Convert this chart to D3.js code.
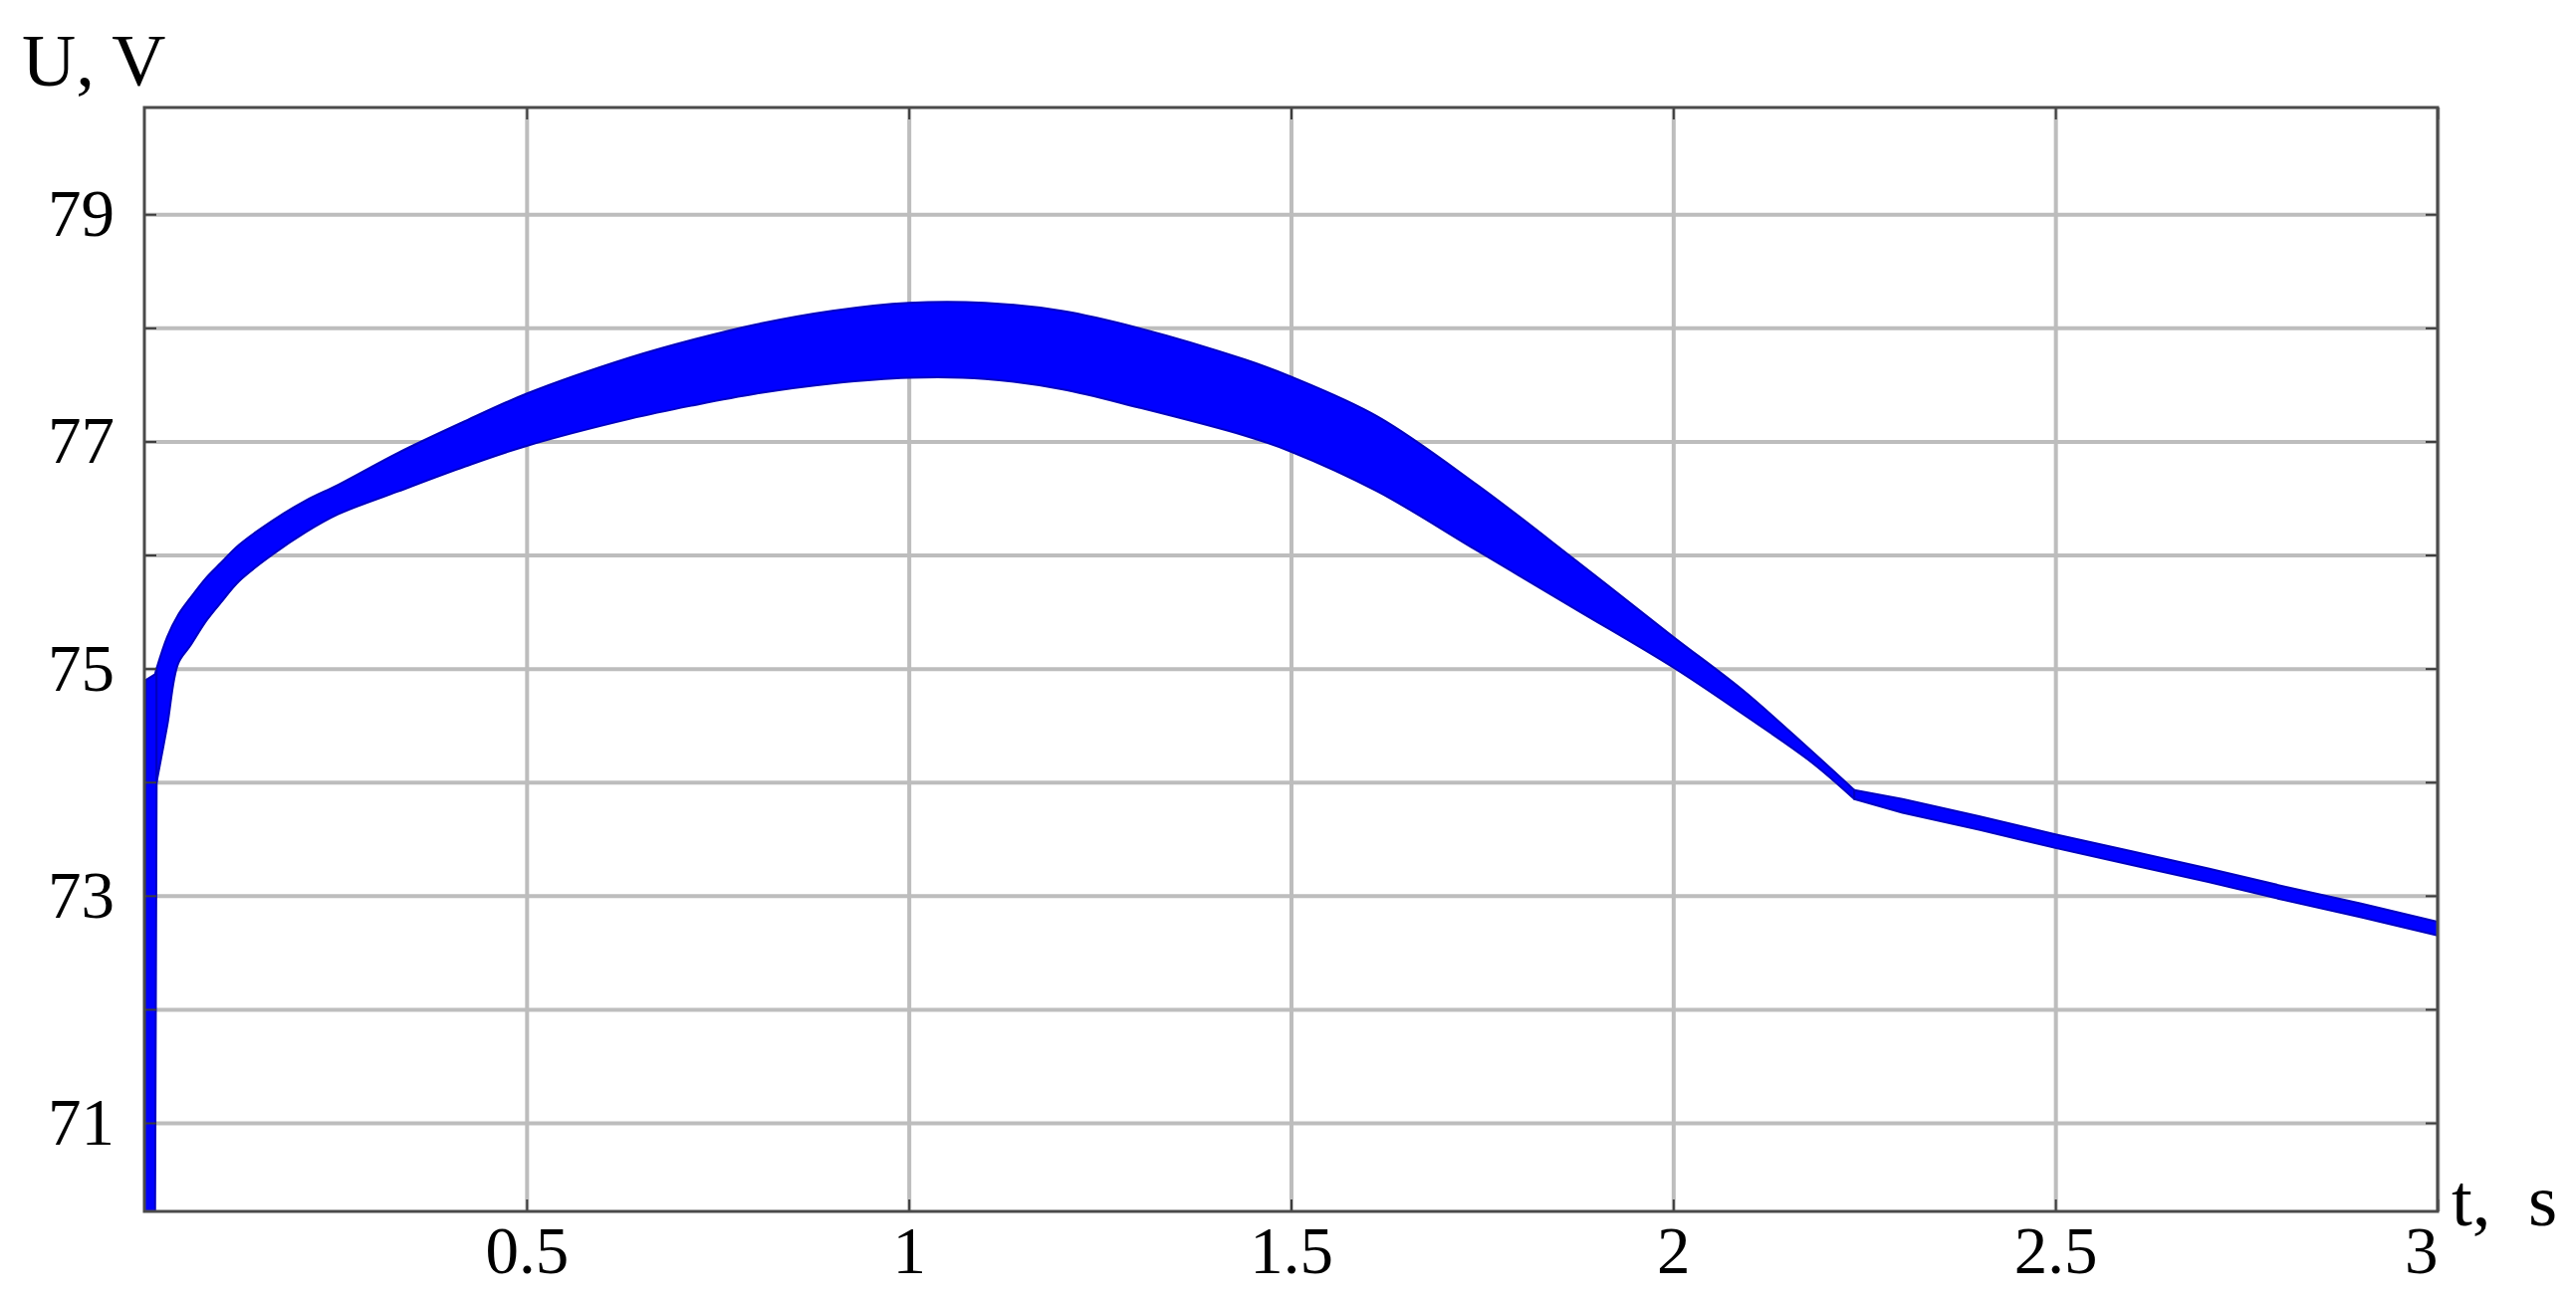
<!DOCTYPE html>
<html>
<head>
<meta charset="utf-8">
<script src="https://cdn.jsdelivr.net/npm/d3@7"></script>
<style>
  body { margin: 0; background: #fff; }
  svg { display: block; }
  .grid line { stroke: #bdbdbd; stroke-width: 4; }
  .grid path { display: none; }
  .ticks line { stroke: #3c3c3c; stroke-width: 2; }
  .ticks path { display: none; }
  .labels path, .labels line { display: none; }
  .labels text { font-family: "Liberation Serif", "Times New Roman", serif; font-size: 67px; fill: #000; }
</style>
</head>
<body>
<svg width="2587" height="1306"></svg>
<script>
"use strict";

// Time points (s) shared by both envelopes of the oscillating voltage
var time = [0, 0.002, 0.014, 0.016, 0.03, 0.044, 0.06, 0.081, 0.1, 0.124, 0.167, 0.211, 0.254,
    0.332, 0.42, 0.5, 0.636, 0.72, 0.8, 0.9, 1.0, 1.1, 1.2, 1.3, 1.44, 1.5, 1.613, 1.743,
    1.873, 2.0, 2.091, 2.18, 2.237, 2.3, 2.4, 2.5, 2.6, 2.7, 2.8, 2.9, 3.0];

// Upper envelope of U (V)
var voltUpper = [70.22, 74.9, 74.95, 75.0, 75.28, 75.47, 75.62, 75.8, 75.93, 76.09, 76.3, 76.48, 76.62,
    76.9, 77.18, 77.42, 77.74, 77.9, 78.03, 78.15, 78.22, 78.22, 78.15, 78.0, 77.72, 77.57, 77.22, 76.62,
    75.95, 75.28, 74.81, 74.28, 73.93, 73.85, 73.7, 73.54, 73.39, 73.24, 73.08, 72.93, 72.77];

// Lower envelope of U (V)
var voltLower = [70.22, 70.22, 70.22, 74.0, 74.5, 75.04, 75.2, 75.42, 75.58, 75.77, 76.0, 76.2, 76.36,
    76.56, 76.78, 76.96, 77.2, 77.32, 77.42, 77.51, 77.56, 77.55, 77.46, 77.3, 77.05, 76.91, 76.56, 76.04,
    75.52, 75.01, 74.6, 74.18, 73.85, 73.73, 73.58, 73.42, 73.27, 73.12, 72.96, 72.81, 72.65];

// Breakpoints: end of the start-up jump, and where the ripple stops
var startupEnd = 0.016;
var kinkTime = 2.237;

// Axis ticks
var xGrid = [0.5, 1, 1.5, 2, 2.5, 3];
var xLabels = [0.5, 1, 1.5, 2, 2.5, 3];
var yGrid = [71, 72, 73, 74, 75, 76, 77, 78, 79];
var yLabels = [71, 73, 75, 77, 79];

var plotLeft = 145, plotRight = 2448, plotTop = 108, plotBottom = 1217;

var x = d3.scaleLinear().domain([0, 3]).range([plotLeft, plotRight]);
var y = d3.scaleLinear().domain([70.22, 79.94]).range([plotBottom, plotTop]);

var svg = d3.select("svg");

svg.append("defs").append("clipPath")
    .attr("id", "plot-clip")
    .append("rect")
    .attr("x", plotLeft)
    .attr("y", plotTop)
    .attr("width", plotRight - plotLeft)
    .attr("height", plotBottom - plotTop);

// Grid lines
svg.append("g")
    .attr("class", "grid")
    .attr("transform", "translate(0," + plotTop + ")")
    .call(d3.axisBottom(x).tickValues(xGrid).tickSize(plotBottom - plotTop).tickFormat(""));

svg.append("g")
    .attr("class", "grid")
    .attr("transform", "translate(" + plotLeft + ",0)")
    .call(d3.axisRight(y).tickValues(yGrid).tickSize(plotRight - plotLeft).tickFormat(""));

// Voltage band (envelope of the fast ripple), drawn in pieces so the corners stay sharp
var rows = time.map(function(t, i) {
    return { t: t, hi: voltUpper[i], lo: voltLower[i] };
});

var linearBand = d3.area()
    .x(function(d) { return x(d.t); })
    .y0(function(d) { return y(d.lo); })
    .y1(function(d) { return y(d.hi); });

var smoothBand = d3.area()
    .curve(d3.curveCatmullRom.alpha(0.5))
    .x(function(d) { return x(d.t); })
    .y0(function(d) { return y(d.lo); })
    .y1(function(d) { return y(d.hi); });

var pieces = [
    { rows: rows.filter(function(d) { return d.t <= startupEnd; }), shape: linearBand },
    { rows: rows.filter(function(d) { return d.t >= startupEnd && d.t <= kinkTime; }), shape: smoothBand },
    { rows: rows.filter(function(d) { return d.t >= kinkTime; }), shape: linearBand }
];

svg.append("g")
    .attr("clip-path", "url(#plot-clip)")
    .selectAll("path")
    .data(pieces)
    .enter().append("path")
    .attr("d", function(p) { return p.shape(p.rows); })
    .attr("fill", "#0000ff")
    .attr("stroke", "#0000c0")
    .attr("stroke-width", 2)
    .attr("stroke-linejoin", "round");

// Small inward ticks on all four sides
svg.append("g").attr("class", "ticks")
    .attr("transform", "translate(" + plotLeft + ",0)")
    .call(d3.axisRight(y).tickValues(yGrid).tickSize(12).tickFormat(""));
svg.append("g").attr("class", "ticks")
    .attr("transform", "translate(" + plotRight + ",0)")
    .call(d3.axisLeft(y).tickValues(yGrid).tickSize(12).tickFormat(""));
svg.append("g").attr("class", "ticks")
    .attr("transform", "translate(0," + plotBottom + ")")
    .call(d3.axisTop(x).tickValues(xGrid).tickSize(12).tickFormat(""));
svg.append("g").attr("class", "ticks")
    .attr("transform", "translate(0," + plotTop + ")")
    .call(d3.axisBottom(x).tickValues(xGrid).tickSize(12).tickFormat(""));

// Frame
svg.append("rect")
    .attr("x", plotLeft)
    .attr("y", plotTop)
    .attr("width", plotRight - plotLeft)
    .attr("height", plotBottom - plotTop)
    .attr("fill", "none")
    .attr("stroke", "#4a4a4a")
    .attr("stroke-width", 3);

// Tick labels
svg.append("g")
    .attr("class", "labels")
    .attr("transform", "translate(" + plotLeft + ",0)")
    .call(d3.axisLeft(y).tickValues(yLabels).tickSize(0).tickPadding(30).tickFormat(d3.format("d")));

var xl = svg.append("g")
    .attr("class", "labels")
    .attr("transform", "translate(0," + plotBottom + ")")
    .call(d3.axisBottom(x).tickValues(xLabels).tickSize(0).tickPadding(14)
        .tickFormat(function(d) { return String(d); }));

// last label sits flush against the right edge
xl.selectAll("text")
    .filter(function(d) { return d === 3; })
    .attr("text-anchor", "end");

// Axis titles
svg.append("text")
    .attr("x", 22)
    .attr("y", 86)
    .style("font-family", "'Liberation Serif', 'Times New Roman', serif")
    .style("font-size", "75px")
    .text("U, V");

svg.append("text")
    .attr("x", 2462)
    .attr("y", 1231)
    .style("font-family", "'Liberation Serif', 'Times New Roman', serif")
    .style("font-size", "75px")
    .style("white-space", "pre")
    .text("t,  s");
</script>
</body>
</html>
